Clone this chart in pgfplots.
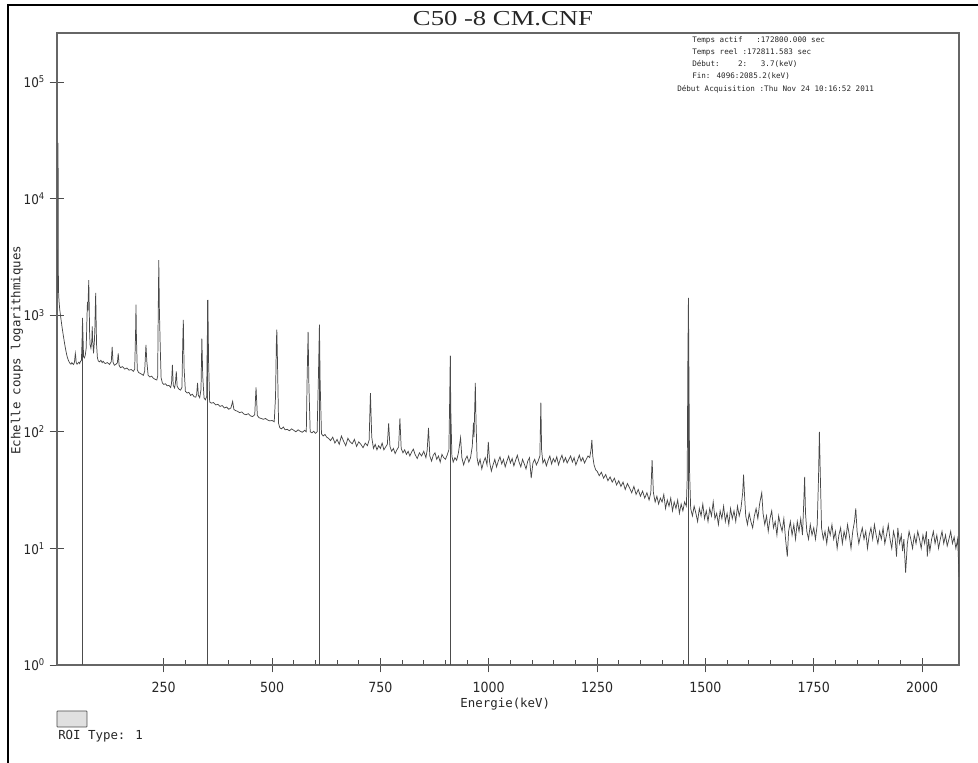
\documentclass[border=0pt]{standalone}
\usepackage{fontspec}
\usepackage{pgfplots}
\pgfplotsset{compat=1.18}
\newfontfamily\tickfont{DejaVu Sans Condensed}
\newfontfamily\monofont{DejaVu Sans Mono}
\newfontfamily\titlefont[FakeStretch=1.25]{Liberation Serif}
\begin{document}
\begin{tikzpicture}
\path[use as bounding box] (-42.75pt,-73.5pt) rectangle (690.75pt,498.75pt);
\begin{axis}[
  at={(0,0)}, anchor=south west, scale only axis,
  width=676.5pt, height=474pt,
  ymode=log, xmin=3.7, xmax=2085.2, ymin=1, ymax=2.63e5,
  xtick={250,500,750,1000,1250,1500,1750,2000},
  xticklabels={250,500,750,1000,1250,1500,1750,2000},
  minor x tick num=4,
  ytick={1,10,100,1000,10000,100000},
  yticklabels={10\textsuperscript{0},10\textsuperscript{1},10\textsuperscript{2},10\textsuperscript{3},10\textsuperscript{4},10\textsuperscript{5}},
  yminorticks=false,
  tick pos=left,
  tick align=center,
  major tick length=11pt,
  minor tick length=3.75pt,
  minor x tick style={yshift=1.875pt},
  tick style={black!70, line width=0.6pt},
  axis line style={black!60, line width=0.9pt},
  xticklabel style={font=\tickfont\fontsize{10.5}{12}\selectfont, text=black!85, yshift=-4pt},
  yticklabel style={font=\tickfont\fontsize{10}{12}\selectfont, text=black!85},
  xlabel={Energie(keV)},
  xlabel style={at={(axis description cs:0.497,-0.062)}, anchor=center, font=\monofont\fontsize{9.3}{11}\selectfont, text=black!85},
  ylabel={Echelle coups logarithmiques},
  ylabel style={at={(axis description cs:-0.0443,0.498)}, anchor=center, font=\monofont\fontsize{9.3}{11}\selectfont, text=black!85},
]
\addplot[black!72, line width=0.55pt] coordinates {
(5.5,1550) (6.2,30000) (6.8,2300) (7.5,1500) (8.5,1300) (10,1120) (12,980) (14,860) (16,760) (18,680)
(20,610) (22,550) (24,500) (26,460) (28,430) (30,410) (32,395) (34,385) (36,380) (38,392)
(40,383) (42,378) (44,395) (46,470) (47,440) (48,392) (50,380) (52,388) (54,395) (56,385)
(58,402) (60,410) (61,520) (62,700) (62.5,950) (64,600) (65,440) (67,430) (69,455) (71,520)
(72,700) (73,1000) (74,1300) (75,1100) (76,1500) (77,2000) (78,1200) (79,700) (80,560) (82,520)
(84,600) (85,800) (86,620) (88,470) (90,600) (91,750) (92,1100) (93,1550) (94,900) (95,560)
(97,430) (99,405) (102,398) (105,410) (108,392)
(110,402) (115,385) (120,392) (125,378) (129,400) (131,535) (133,395) (136,372) (140,380) (143,390)
(145,470) (147,372) (150,355) (155,362) (160,345) (165,352) (170,338) (175,342) (180,330) (183,345)
(185,700) (186,1230) (187,640) (189,340) (192,322) (195,318) (200,310) (203,305) (206,330) (209,555)
(211,400) (214,305) (218,295) (222,300) (226,288) (230,282) (234,278) (236,300) (237,800) (238.6,2960)
(240,1100) (242,520) (244,290) (247,262) (250,255) (254,258) (258,248) (262,250) (266,240) (268,260)
(270,375) (272,250) (275,238) (277,262) (279,330) (281,245) (285,232) (289,228) (292,240) (294,600)
(295.2,910) (297,350) (300,222) (304,215) (308,218) (312,205) (316,210) (320,200) (324,198) (326,210)
(328,263) (330,205) (333,196) (336,230) (338,630) (340,300) (343,195) (346,188) (349,200) (350.5,600)
(351.9,1350) (353.5,400) (356,180) (360,176) (365,178) (370,170) (375,172) (380,165) (385,168) (390,160)
(395,163) (400,156) (405,160) (409,182) (412,155) (416,152) (420,150) (425,146) (430,148) (435,142)
(440,140) (445,143) (450,137) (455,135) (460,140) (463,240) (466,138) (470,132) (475,130) (480,128)
(485,130) (490,126) (495,124) (500,125) (505,122) (508,200) (510,600) (511,750) (512.5,400) (515,118)
(518,108) (522,106) (526,110) (530,104) (535,105) (540,102) (545,106) (550,103) (555,100) (560,104)
(565,101) (570,99) (575,103) (579,100) (581,300) (583.2,720) (585,250) (588,100) (592,98) (596,101)
(600,97) (604,100) (607,300) (609.3,830) (611,260) (614,96) (618,92) (622,95) (626,90) (630,88)
(635,84) (640,90) (645,80) (650,86) (655,78) (660,92) (665,83) (670,76) (675,88) (680,82)
(685,79) (690,86) (695,75) (700,82) (705,78) (710,73) (715,80) (720,76) (724,85) (727,215)
(730,90) (734,72) (738,78) (742,70) (746,76) (750,72) (754,80) (758,70) (762,74) (766,78)
(769,118) (772,75) (776,68) (780,72) (784,65) (788,70) (792,74) (795,130) (798,72) (802,66)
(806,70) (810,64) (814,68) (818,62) (822,67) (826,71) (830,64) (835,59) (840,66) (845,62)
(850,68) (855,60) (858,70) (861,108) (864,62) (868,56) (872,63) (876,66) (880,58) (884,62)
(888,55) (892,64) (896,60) (900,58) (904,63) (908,70) (910,200) (911.2,450) (912.5,150) (915,62)
(918,55) (922,60) (926,57) (930,66) (935,89) (938,60) (942,52) (946,58) (950,62) (954,55)
(958,60) (962,75) (964.8,120) (966,90) (968,180) (969,263) (970.5,130) (973,60) (976,52) (980,58)
(984,48) (988,55) (992,60) (996,52) (999,82) (1002,55) (1006,46) (1010,52) (1014,58) (1018,50)
(1022,56) (1026,61) (1030,53) (1034,58) (1038,50) (1042,56) (1046,62) (1050,54) (1054,59) (1058,51)
(1062,57) (1066,63) (1070,55) (1074,50) (1078,58) (1082,53) (1086,48) (1090,56) (1094,60) (1098,40)
(1102,54) (1106,58) (1110,52) (1114,56) (1118,62) (1120.3,178) (1122,70) (1125,54) (1129,58) (1133,51)
(1137,57) (1141,62) (1145,53) (1149,59) (1153,55) (1157,61) (1161,52) (1165,58) (1169,63) (1173,55)
(1177,60) (1181,54) (1185,58) (1189,62) (1193,55) (1197,60) (1201,52) (1205,57) (1209,63) (1213,56)
(1217,60) (1221,54) (1225,58) (1229,62) (1233,60) (1236,70) (1238,85) (1240,62) (1243,52) (1247,47)
(1250,46) (1255,42) (1260,45) (1265,40) (1270,43) (1275,38) (1280,41) (1285,37) (1290,40) (1295,35)
(1300,38) (1305,34) (1310,37) (1315,32) (1320,36) (1325,33) (1330,30) (1335,34) (1340,29) (1345,32)
(1350,28) (1355,31) (1360,27) (1365,30) (1370,26) (1374,30) (1377,57) (1380,30) (1384,25) (1388,28)
(1392,24) (1396,27) (1400,25) (1404,29) (1408,22) (1412,26) (1416,23) (1420,27) (1424,21) (1428,25)
(1432,22) (1436,26) (1440,20) (1444,24) (1448,21) (1452,25) (1456,23) (1458,40) (1459.5,400) (1460.8,1410)
(1462,300) (1463.5,45) (1466,22) (1470,19) (1474,23) (1478,20) (1482,17) (1486,22) (1490,19) (1494,24)
(1498,18) (1502,21) (1506,17) (1510,22) (1514,19) (1518,25) (1522,18) (1526,20) (1530,16) (1534,21)
(1538,18) (1542,23) (1546,17) (1550,20) (1554,16) (1558,22) (1562,18) (1566,21) (1570,17) (1574,23)
(1578,19) (1582,22) (1586,30) (1588,43) (1590,30) (1593,19) (1597,16) (1601,20) (1605,17) (1609,15)
(1613,19) (1617,22) (1621,18) (1625,24) (1630,30) (1633,20) (1637,16) (1641,19) (1645,14) (1649,18)
(1653,21) (1657,15) (1661,17) (1665,13) (1669,19) (1673,16) (1677,14) (1681,18) (1685,12) (1689,8.5)
(1692,14) (1696,17) (1700,13) (1704,16) (1708,12) (1712,17) (1716,14) (1720,18) (1724,13) (1727,25)
(1729,41) (1731,20) (1734,14) (1738,12) (1742,16) (1746,13) (1750,15) (1754,12) (1758,16) (1761,40)
(1763,100) (1765,45) (1768,15) (1772,12) (1776,14) (1780,11) (1784,15) (1788,13) (1792,16) (1796,12)
(1800,14) (1804,10) (1808,13) (1812,15) (1816,11) (1820,14) (1824,12) (1828,16) (1832,13) (1836,10)
(1840,14) (1844,17) (1847,22) (1850,14) (1854,11) (1858,13) (1862,15) (1866,12) (1870,14) (1874,10)
(1878,13) (1882,15) (1886,12) (1890,16) (1894,13) (1898,11) (1902,14) (1906,12) (1910,15) (1914,11)
(1918,13) (1922,16) (1926,12) (1930,10) (1934,14) (1938,12) (1941,8.5) (1944,15) (1948,11) (1952,13)
(1955,9.5) (1958,12) (1962,6.2) (1966,11) (1970,14) (1974,12) (1978,10) (1982,13) (1986,11) (1990,14)
(1994,12) (1998,10) (2002,13) (2006,11) (2010,14) (2012,8.5) (2015,12) (2018,9.5) (2022,12) (2026,14)
(2030,11) (2034,13) (2038,10) (2042,12) (2046,14) (2050,11) (2054,13) (2058,10.5) (2062,12) (2066,14)
(2070,11) (2074,12.5) (2078,10) (2082,12) (2084,8) (2085.2,5.7)
};
% ROI markers
\addplot[black!70, line width=0.75pt] coordinates {(62.5,1) (62.5,950)};
\addplot[black!70, line width=0.75pt] coordinates {(351.9,1) (351.9,1350)};
\addplot[black!70, line width=0.75pt] coordinates {(609.3,1) (609.3,830)};
\addplot[black!70, line width=0.75pt] coordinates {(911.2,1) (911.2,450)};
\addplot[black!70, line width=0.75pt] coordinates {(1460.8,1) (1460.8,1410)};
\end{axis}
% outer frame
\draw[black, line width=1.8pt] (-36.75pt,-73.5pt) -- (-36.75pt,495pt) -- (690.75pt,495pt);
% title
\node[font=\titlefont\fontsize{16}{19}\selectfont, text=black!85] at (334.5pt,484.5pt) {C50 -8 CM.CNF};
% header info
\begin{scope}[every node/.style={anchor=west, inner sep=0pt, font=\monofont\fontsize{5.7}{7}\selectfont, text=black!85}]
\node at (476.25pt,468.75pt) {Temps actif\ \ \ :172800.000 sec};
\node at (476.25pt,459.75pt) {Temps reel :172811.583 sec};
\node at (476.25pt,450.75pt) {Début:\ \ \ \ 2:\ \ \ 3.7(keV)};
\node at (476.25pt,441.75pt) {Fin: 4096:2085.2(keV)};
\node at (465pt,432pt) {Début Acquisition :Thu Nov 24 10:16:52 2011};
\end{scope}
% ROI legend
\draw[black!70, fill=black!12, line width=0.6pt, rounded corners=0.5pt] (0pt,-34.5pt) rectangle (22.5pt,-46.5pt);
\node[anchor=west, inner sep=0pt, font=\monofont\fontsize{9.3}{11}\selectfont, text=black!85] at (0.75pt,-53.25pt) {ROI Type: 1};
\end{tikzpicture}
\end{document}
